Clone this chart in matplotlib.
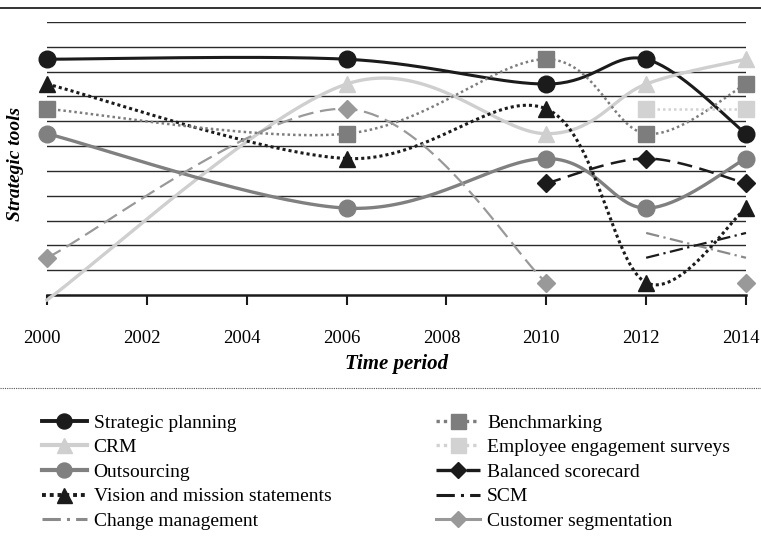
import numpy as np
import matplotlib
matplotlib.use("Agg")
import matplotlib.pyplot as plt
import matplotlib.transforms as mtransforms
from matplotlib.lines import Line2D

plt.rcParams["font.family"] = ["Liberation Serif", "DejaVu Serif"]

years = [2000, 2006, 2010, 2012, 2014]
nan = np.nan

strategic_planning = [9.5, 9.5, 8.5, 9.5, 6.5]
crm = [-0.2, 8.5, 6.5, 8.5, 9.5]
outsourcing = [6.5, 3.5, 5.5, 3.5, 5.5]
vision_mission = [8.5, 5.5, 7.5, 0.5, 3.5]
change_management = [nan, nan, nan, 2.5, 1.5]
benchmarking = [7.5, 6.5, 9.5, 6.5, 8.5]
employee_surveys = [nan, nan, nan, 7.5, 7.5]
balanced_scorecard = [nan, nan, 4.5, 5.5, 4.5]
scm = [nan, nan, nan, 1.5, 2.5]
customer_segmentation = [1.5, 7.5, 0.5, nan, 0.5]

xticks = list(range(2000, 2015, 2))

# pixel scale used for the smoothing, so the curve bends like the original
PX_X, PX_Y = 49.9, 24.8


def smooth(xs, ys, n=40):
    """Excel-like smoothed line (Catmull-Rom Bezier), split at gaps."""
    parts = []
    cur = []
    for x, y in zip(xs, ys):
        if np.isnan(y):
            if cur:
                parts.append(cur)
            cur = []
        else:
            cur.append((x * PX_X, y * PX_Y))
    if cur:
        parts.append(cur)
    out = []
    for p in parts:
        p = np.array(p)
        if len(p) == 1:
            out.append((p[:, 0] / PX_X, p[:, 1] / PX_Y))
            continue
        pts = []
        for i in range(len(p) - 1):
            p0 = p[i - 1] if i > 0 else p[i]
            p1, p2 = p[i], p[i + 1]
            p3 = p[i + 2] if i + 2 < len(p) else p[i + 1]
            c1 = p1 + (p2 - p0) / 6
            c2 = p2 - (p3 - p1) / 6
            t = np.linspace(0, 1, n)[:, None]
            seg = ((1 - t) ** 3 * p1 + 3 * (1 - t) ** 2 * t * c1
                   + 3 * (1 - t) * t ** 2 * c2 + t ** 3 * p2)
            pts.append(seg if i == 0 else seg[1:])
        pts = np.vstack(pts)
        out.append((pts[:, 0] / PX_X, pts[:, 1] / PX_Y))
    return out


BLACK = "#1b1b1b"
series = [
    # label, data, color, linestyle, lw, marker, ms
    ("Strategic planning", strategic_planning, BLACK, "-", 2.2, "o", 12),
    ("CRM", crm, "#cfcfcf", "-", 2.4, "^", 12),
    ("Outsourcing", outsourcing, "#808080", "-", 2.4, "o", 12),
    ("Vision and mission statements", vision_mission, BLACK, (0, (1, 1)), 2.2, "^", 12),
    ("Change management", change_management, "#8a8a8a", (0, (6, 2, 1, 2)), 1.6, None, 0),
    ("Benchmarking", benchmarking, "#7d7d7d", (0, (1, 1.2)), 1.8, "s", 12),
    ("Employee engagement surveys", employee_surveys, "#d2d2d2", (0, (1, 1.2)), 1.8, "s", 12),
    ("Balanced scorecard", balanced_scorecard, BLACK, (0, (6, 3)), 1.8, "D", 9.5),
    ("SCM", scm, BLACK, (0, (6, 2, 1, 2)), 1.6, None, 0),
    ("Customer segmentation", customer_segmentation, "#999999", (0, (7, 3)), 1.6, "D", 9.5),
]

fig = plt.figure(figsize=(7.61, 5.45), dpi=100)
ax = fig.add_axes([47 / 761, 1 - 295 / 545, 699 / 761, 273 / 545])

ax.set_xlim(2000, 2014)
ax.set_ylim(0, 11)
ax.set_yticks(range(1, 12))
ax.set_yticklabels([])
ax.tick_params(axis="y", length=0)
ax.grid(axis="y", color="#2a2a2a", lw=1.0)
ax.set_axisbelow(True)
for s in ["left", "right", "top"]:
    ax.spines[s].set_visible(False)
ax.spines["bottom"].set_color(BLACK)
ax.spines["bottom"].set_linewidth(1.8)
ax.set_xticks(xticks)
ax.set_xticklabels([str(t) for t in xticks], fontsize=13.5)
ax.tick_params(axis="x", direction="out", length=7, width=1.5, pad=18, color=BLACK)
shift = mtransforms.ScaledTranslation(-5 / 100, 0, fig.dpi_scale_trans)
for lab in ax.get_xticklabels():
    lab.set_transform(lab.get_transform() + shift)

for label, vals, color, ls, lw, mk, ms in series:
    for sx, sy in smooth(years, vals):
        ax.plot(sx, sy, color=color, ls=ls, lw=lw, clip_on=False, zorder=3)
    if mk:
        mx = [x for x, v in zip(years, vals) if not np.isnan(v) and v >= 0]
        my = [v for v in vals if not np.isnan(v) and v >= 0]
        ax.plot(mx, my, ls="none", marker=mk, ms=ms, color=color,
                mec=color, clip_on=False, zorder=4)

fig.text(397 / 761, 1 - 364 / 545, "Time period", fontsize=15,
         fontweight="bold", fontstyle="italic", ha="center", va="center")
fig.text(16 / 761, 1 - 164 / 545, "Strategic tools", fontsize=14,
         fontweight="bold", fontstyle="italic", ha="center", va="center",
         rotation=90)

# frame lines of the figure
fig.add_artist(Line2D([0, 1], [1 - 8 / 545, 1 - 8 / 545], color="#333333", lw=1.4))
fig.add_artist(Line2D([0, 1], [1 - 388 / 545, 1 - 388 / 545], color="#555555",
                      lw=0.8, ls=(0, (1, 1))))

# legend (its line styles follow the original legend)
legend_ls = {"Customer segmentation": "-"}
handles = []
for label, vals, color, ls, lw, mk, ms in series:
    handles.append(Line2D([], [], color=color, ls=legend_ls.get(label, ls),
                          lw=lw + 0.6, marker=mk, ms=ms * 0.9, mec=color, label=label))
fig.legend(handles=handles, ncol=2, loc="upper left",
           bbox_to_anchor=(42 / 761, 1 - 414 / 545), frameon=False,
           fontsize=14, handlelength=2.3, handletextpad=0.36,
           labelspacing=0.36, columnspacing=5.35, borderaxespad=0,
           borderpad=0)

fig.savefig("out.png", dpi=100)
